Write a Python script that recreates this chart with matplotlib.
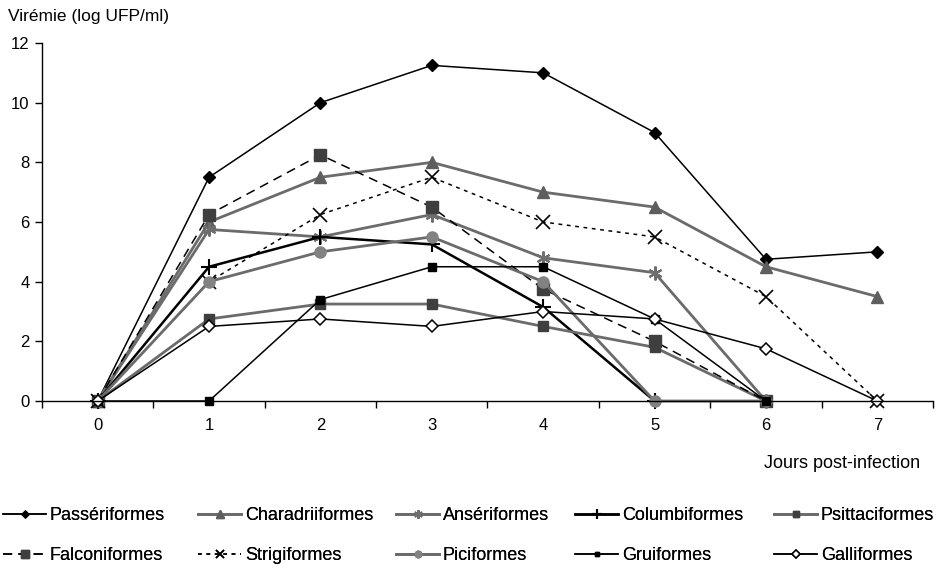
import matplotlib
matplotlib.use('Agg')
import matplotlib.pyplot as plt
import numpy as np

plt.rcParams['font.family'] = ['Liberation Sans', 'DejaVu Sans']
plt.rcParams['font.size'] = 12

# days post infection
jours = [0, 1, 2, 3, 4, 5, 6, 7]

# viremia per order (log UFP/ml)
passeriformes = [0, 7.5, 10.0, 11.25, 11.0, 9.0, 4.75, 5.0]
charadriiformes = [0, 6.0, 7.5, 8.0, 7.0, 6.5, 4.5, 3.5]
anseriformes = [0, 5.75, 5.5, 6.25, 4.8, 4.3, 0]
columbiformes = [0, 4.5, 5.5, 5.25, 3.15, 0]
psittaciformes = [0, 2.75, 3.25, 3.25, 2.5, 1.8, 0]
falconiformes = [0, 6.25, 8.25, 6.5, 3.75, 2.0, 0]
strigiformes = [0, 4.0, 6.25, 7.5, 6.0, 5.5, 3.5, 0]
piciformes = [0, 4.0, 5.0, 5.5, 4.0, 0, 0]
gruiformes = [0, 0, 3.4, 4.5, 4.5, 2.75, 0]
galliformes = [0, 2.5, 2.75, 2.5, 3.0, 2.75, 1.75, 0]

y_ticks = [0, 2, 4, 6, 8, 10, 12]

grey = '#6b6b6b'
dark = '#3f3f3f'

series = [
    ('Passériformes', passeriformes, dict(color='black', lw=1.1, marker='D', ms=6, mfc='black', mec='black')),
    ('Charadriiformes', charadriiformes, dict(color=grey, lw=2.0, marker='^', ms=9, mfc='#5e5e5e', mec='#5e5e5e')),
    ('Ansériformes', anseriformes, dict(color=grey, lw=2.0, marker=(6, 2, 0), ms=10, mew=1.5, mec='#6e6e6e')),
    ('Columbiformes', columbiformes, dict(color='black', lw=1.8, marker='+', ms=11, mew=1.5, mec='black')),
    ('Psittaciformes', psittaciformes, dict(color=grey, lw=2.0, marker='s', ms=7, mfc=dark, mec=dark)),
    ('Falconiformes', falconiformes, dict(color='black', lw=1.1, ls=(0, (6, 4)), marker='s', ms=9, mfc=dark, mec=dark)),
    ('Strigiformes', strigiformes, dict(color='black', lw=1.1, ls=(0, (2.5, 3)), marker='x', ms=10, mew=1.2, mec='black')),
    ('Piciformes', piciformes, dict(color=grey, lw=2.0, marker='o', ms=8, mfc='#828282', mec='#828282')),
    ('Gruiformes', gruiformes, dict(color='black', lw=1.1, marker='s', ms=6, mfc='black', mec='black')),
    ('Galliformes', galliformes, dict(color='black', lw=1.1, marker='D', ms=6.5, mfc='white', mec='black', mew=1.1)),
]

fig = plt.figure(figsize=(9.36, 5.70), dpi=100)
ax = fig.add_axes([42 / 936, 169 / 570, (933 - 42) / 936, (401 - 43) / 570])

handles = []
for name, vals, style in series:
    h, = ax.plot(jours[:len(vals)], vals, label=name, clip_on=False, **style)
    handles.append(h)

ax.set_xlim(-0.5, 7.5)
ax.set_ylim(0, 12)
ax.set_yticks(y_ticks)
ax.set_xticks(jours)
ax.set_xticks(np.arange(-0.5, 8.0, 1.0), minor=True)
ax.tick_params(axis='x', which='major', length=0, pad=12)
ax.tick_params(axis='x', which='minor', length=5, width=1, direction='out')
ax.tick_params(axis='y', length=5, width=1, direction='out', pad=4)
for s in ['top', 'right']:
    ax.spines[s].set_visible(False)
ax.spines['left'].set_linewidth(1)
ax.spines['bottom'].set_linewidth(1)

fig.text(8 / 936, 1 - 17 / 570, 'Virémie (log UFP/ml)', ha='left', va='center', fontsize=12.5)
fig.text(920 / 936, 1 - 464 / 570, 'Jours post-infection', ha='right', va='center', fontsize=13)

# legend: 5 columns, placed one by one
col_x = [3, 198, 396, 575, 774]
for i, x in enumerate(col_x):
    leg = fig.legend([handles[i], handles[i + 5]], [series[i][0], series[i + 5][0]],
                     loc='upper left', bbox_to_anchor=(x / 936, 1 - 507 / 570),
                     frameon=False, handlelength=2.4, handletextpad=0.2,
                     labelspacing=1.3, borderpad=0, borderaxespad=0, numpoints=1,
                     markerscale=0.6, fontsize=13)
    fig.add_artist(leg)

fig.savefig('out.png', dpi=100)
